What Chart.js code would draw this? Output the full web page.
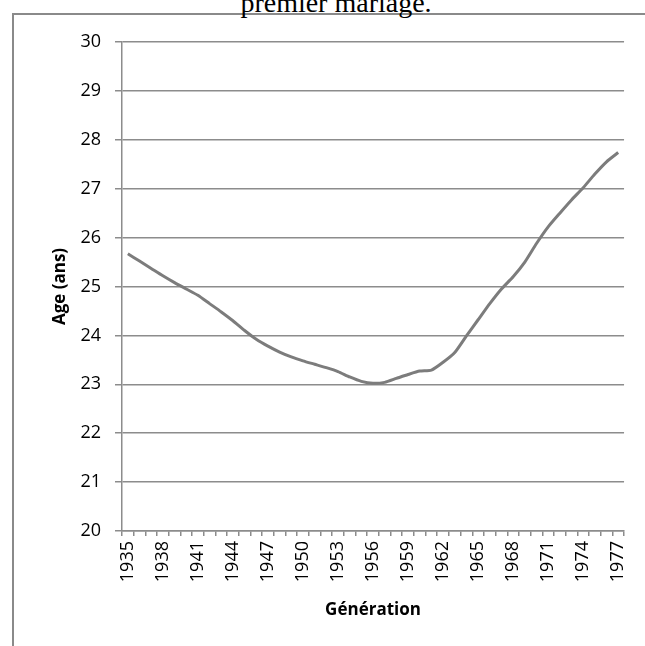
<!DOCTYPE html>
<html>
<head>
<meta charset="utf-8">
<script src="https://cdn.jsdelivr.net/npm/chart.js@4.4.1/dist/chart.umd.min.js"></script>
<style>
	html, body { margin: 0; padding: 0; background: #fff; overflow: hidden; }
	#wrap { position: relative; width: 645px; height: 646px; }
	#frame {
		position: absolute; left: 12px; top: 13px; right: 0; bottom: 0;
		border-left: 2px solid #8a8a8a; border-top: 2px solid #8a8a8a;
	}
	#doctext {
		position: absolute; left: 0; width: 672px; top: -10px; text-align: center;
		font-family: "Liberation Serif", "Times New Roman", serif; font-size: 28px; line-height: 26px;
		color: #000; white-space: nowrap;
	}
	canvas { position: absolute; left: 0; top: 0; }
</style>
</head>
<body>
<div id="wrap">
	<div id="frame"></div>
	<div id="doctext">premier mariage.</div>
	<canvas id="lineChartCanvas" width="645" height="646"></canvas>
</div>
<script>
// générations 1935 -> 1977
var years = [];
for (var y = 1935; y <= 1977; y++) years.push(String(y));

// âge moyen au premier mariage (ans)
var ages = [
	25.67, 25.52, 25.37, 25.22, 25.08, 24.95, 24.82, 24.65, 24.48, 24.30,
	24.10, 23.92, 23.78, 23.66, 23.56, 23.48, 23.41, 23.34, 23.26, 23.15,
	23.06, 23.02, 23.04, 23.12, 23.20, 23.27, 23.29, 23.45, 23.65, 23.99,
	24.32, 24.65, 24.95, 25.20, 25.50, 25.88, 26.22, 26.50, 26.77, 27.02,
	27.30, 27.55, 27.74
];

var yMin = 20;
var yMax = 30;
var yStep = 1;

var gridColor = '#8c8c8c';
var tickFont = { family: '"Open Sans", "Noto Sans", sans-serif', size: 18 };
var titleFont = { family: '"Open Sans", "Noto Sans", sans-serif', size: 17, weight: 'bold' };

var config = {
	type: 'line',
	data: {
		labels: years,
		datasets: [{
			data: ages,
			borderColor: '#7c7c7c',
			borderWidth: 3,
			pointRadius: 0,
			tension: 0.2,
			fill: false
		}]
	},
	options: {
		responsive: false,
		animation: false,
		layout: { padding: { left: 12, top: 42, right: 16, bottom: 0 } },
		plugins: {
			legend: { display: false },
			tooltip: { enabled: false }
		},
		scales: {
			x: {
				type: 'category',
				offset: true,
				grid: {
					offset: true,
					drawOnChartArea: false,
					drawTicks: true,
					tickLength: 5,
					color: gridColor,
					lineWidth: 1.5
				},
				border: { color: gridColor, width: 1.5 },
				ticks: {
					autoSkip: false,
					minRotation: 90,
					maxRotation: 90,
					padding: 5,
					color: '#000',
					font: tickFont,
					callback: function(val, i) { return i % 3 === 0 ? this.getLabelForValue(val) : ''; }
				},
				title: {
					display: true,
					text: 'Génération',
					color: '#000',
					font: titleFont,
					padding: { top: 0, bottom: 26 }
				},
				afterFit: function(scale) { scale.height = 115; }
			},
			y: {
				min: yMin,
				max: yMax,
				grid: {
					color: gridColor,
					lineWidth: 1.5,
					tickLength: 7
				},
				border: { color: gridColor, width: 1.5 },
				ticks: {
					stepSize: yStep,
					padding: 14,
					color: '#000',
					font: tickFont
				},
				title: {
					display: true,
					text: 'Age (ans)',
					color: '#000',
					font: titleFont,
					padding: { top: 38, bottom: 0 }
				},
				afterFit: function(scale) { scale.width = 110; }
			}
		}
	}
};

var ctxLine = document.getElementById('lineChartCanvas').getContext('2d');
window.myLine = new Chart(ctxLine, config);
</script>
</body>
</html>
